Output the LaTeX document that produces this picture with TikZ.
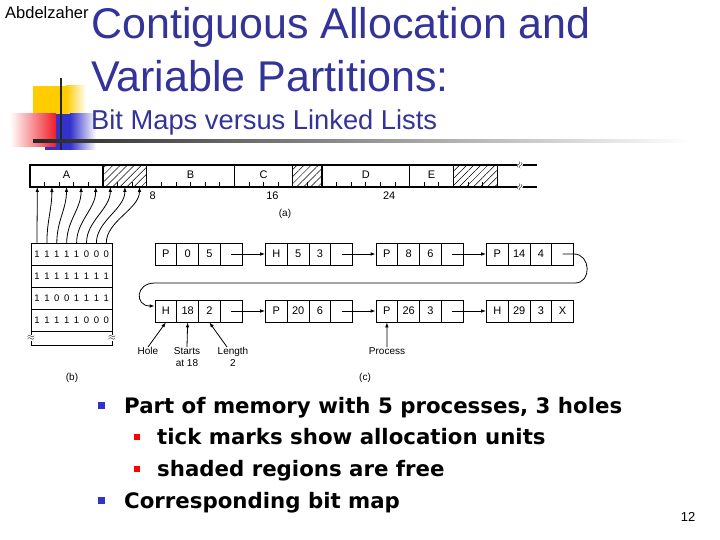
\documentclass[tikz,border=0pt]{standalone}
\usepackage{fontspec}
\setmainfont{Liberation Sans}
\newfontfamily\bulfont{DejaVu Sans}
\usetikzlibrary{patterns.meta,arrows.meta}
\definecolor{titleblue}{RGB}{51,51,153}
\definecolor{logoyellow}{RGB}{255,204,0}
\definecolor{logored}{RGB}{240,30,40}
\definecolor{logoblue}{RGB}{51,51,204}
\newcommand\mklnode[7]{%
  \node[cell] (#1a) at ({#2+10.875},#3) {#4};
  \node[cell] (#1b) at ({#2+32.625},#3) {#5};
  \node[cell] (#1c) at ({#2+54.375},#3) {#6};
  \node[cell] (#1d) at ({#2+76.125},#3) {#7};}
\begin{document}
\begin{tikzpicture}[x=1pt,y=-1pt,
  bar/.style={line width=1.1pt},
  tickmark/.style={line width=0.8pt},
  arr/.style={line width=0.8pt,-{Latex[length=5pt,width=3.6pt]}},
  cell/.style={draw,line width=0.8pt,minimum width=21.75pt,minimum height=22pt,inner sep=0pt,font=\fontsize{11}{12}\selectfont},
  lbl/.style={inner sep=0pt,font=\fontsize{11}{12}\selectfont},
  bitlbl/.style={inner sep=0pt,font=\fontsize{9.5}{11}\selectfont},
  smalllbl/.style={inner sep=0pt,font=\fontsize{10}{12}\selectfont,align=center},
  hatch/.style={pattern={Lines[angle=45,distance=5pt,line width=0.5pt]}},
  bullettext/.style={anchor=base west,inner sep=0pt,font=\bulfont\bfseries\fontsize{21.3}{24}\selectfont},
]
\useasboundingbox (0,0) rectangle (720,540);
% ---------- logo ----------
\fill[logoyellow] (33,86) rectangle (66,118);
\shade[left color=logoyellow,right color=white] (66,86) rectangle (86,118);
\fill[logoblue] (45,114) rectangle (70,150);
\shade[left color=logoblue,right color=white] (70,114) rectangle (96,150);
\shade[left color=white,right color=logored] (10,114) rectangle (56,147);
\draw[line width=2pt,black!85] (61,78) -- (61,150);
\shade[left color=black!85,right color=white] (33,139.5) rectangle (690,142.5);
% ---------- titles ----------
\node[anchor=base west,inner sep=0pt,font=\fontsize{16.5}{18}\selectfont] (auth) at (5,19) {Abdelzaher};
\node[anchor=base west,inner sep=0pt,text=titleblue,font=\fontsize{43}{46}\selectfont] (t1) at (91,39) {Contiguous Allocation and};
\node[anchor=base west,inner sep=0pt,text=titleblue,font=\fontsize{43}{46}\selectfont] (t2) at (91,92) {Variable Partitions:};
\node[anchor=base west,inner sep=0pt,text=titleblue,font=\fontsize{27.3}{30}\selectfont] (t3) at (91,130) {Bit Maps versus Linked Lists};
% ---------- memory bar ----------
\path[hatch] ({30+5*14.6},165) rectangle ({30+8*14.6},187);
\path[hatch] ({30+18*14.6},165) rectangle ({30+20*14.6},187);
\path[hatch] ({30+29*14.6},165) rectangle ({30+32*14.6},187);
\foreach \k in {1,...,31} \draw[tickmark] ({30+\k*14.6},187) -- ++(0,-5);
\draw[bar] (537,165) -- (30,165) -- (30,187) -- (537,187);
\foreach \k in {5,8,14,18,20,26,29,32} \draw[bar] ({30+\k*14.6},165) -- ({30+\k*14.6},187);
\node[fill=white,inner sep=0.3pt,rotate=70,font=\small] (brk1) at (520,165) {$\approx$};
\node[fill=white,inner sep=0.3pt,rotate=70,font=\small] (brk2) at (520,187) {$\approx$};
\node[lbl] (lA) at ({30+2.5*14.6},175) {A};
\node[lbl] (lB) at ({30+11*14.6},175) {B};
\node[lbl] (lC) at ({30+16*14.6},175) {C};
\node[lbl] (lD) at ({30+23*14.6},175) {D};
\node[lbl] (lE) at ({30+27.5*14.6},175) {E};
\node[lbl,anchor=west] (n8) at ({30+8*14.6+2.5},196) {8};
\node[lbl,anchor=west] (n16) at ({30+16*14.6+2.5},196) {16};
\node[lbl,anchor=west] (n24) at ({30+24*14.6+2.5},196) {24};
\node[smalllbl] (capa) at (285,214) {(a)};
% ---------- bitmap ----------
\draw[line width=0.9pt] (31,345) -- (31,243) -- (112,243) -- (112,345) -- cycle;
\foreach \y in {265,287,309,331} \draw[line width=0.9pt] (31,\y) -- (112,\y);
\node[fill=white,inner sep=0.3pt,font=\normalsize] (bbl) at (31,338) {$\approx$};
\node[fill=white,inner sep=0.3pt,font=\normalsize] (bbr) at (112,338) {$\approx$};
\foreach \r/\bits in {0/{1,1,1,1,1,0,0,0},1/{1,1,1,1,1,1,1,1},2/{1,1,0,0,1,1,1,1},3/{1,1,1,1,1,0,0,0}}{
  \foreach \v [count=\i from 0] in \bits {
    \node[bitlbl] (bm\r\i) at ({37+9.9*\i},{254+22*\r}) {\v};
  }
}
\foreach \i in {0,...,7}{
  \coordinate (bs\i) at ({37+9.9*\i},243);
  \coordinate (mt\i) at ({30+(\i+0.5)*14.6},187);
  \draw[arr] (bs\i) .. controls +(0,-22) and +(0,22) .. (mt\i);
}
\node[smalllbl] (capb) at (72,378) {(b)};
% ---------- linked list ----------
\mklnode{pa}{155}{254}{P}{0}{5}{}
\mklnode{pb}{265.5}{254}{H}{5}{3}{}
\mklnode{pc}{376}{254}{P}{8}{6}{}
\mklnode{pd}{486.5}{254}{P}{14}{4}{}
\mklnode{qa}{155}{311}{H}{18}{2}{}
\mklnode{qb}{265.5}{311}{P}{20}{6}{}
\mklnode{qc}{376}{311}{P}{26}{3}{}
\mklnode{qd}{486.5}{311}{H}{29}{3}{X}
\draw[arr] (pad.center) -- (pba.west);
\draw[arr] (pbd.center) -- (pca.west);
\draw[arr] (pcd.center) -- (pda.west);
\draw[arr] (qad.center) -- (qba.west);
\draw[arr] (qbd.center) -- (qca.west);
\draw[arr] (qcd.center) -- (qda.west);
\coordinate (wr) at (575,283);
\coordinate (wl) at (155,283);
\draw[arr] (pdd.center) -- (pdd.east) .. controls +(17,0) and +(17,0) .. (wr) -- (wl) .. controls +(-20,0) and +(-20,0) .. ([yshift=5pt]qaa.west);
\node[smalllbl,anchor=north] (hole) at (148,347) {Hole};
\node[smalllbl,anchor=north] (starts) at (187,347) {Starts\\at 18};
\node[smalllbl,anchor=north] (length) at (233,347) {Length\\2};
\node[smalllbl,anchor=north] (proc) at (387,347) {Process};
\draw[arr] (hole.north) -- (qaa.south);
\draw[arr] (starts.north) -- (qab.south);
\draw[arr] ([xshift=-6pt]length.north) -- (qac.south);
\draw[arr] (proc.north) -- (qca.south);
\node[smalllbl] (capc) at (365,378) {(c)};
% ---------- bullets ----------
\fill[logoblue] (98,402) rectangle (105,409);
\fill[red] (134,434) rectangle (140,440);
\fill[red] (134,466) rectangle (140,472);
\fill[logoblue] (98,497) rectangle (105,504);
\node[bullettext] (b1) at (124,413) {Part of memory with 5 processes, 3 holes};
\node[bullettext] (b2) at (157,444) {tick marks show allocation units};
\node[bullettext] (b3) at (157,476) {shaded regions are free};
\node[bullettext] (b4) at (124,508) {Corresponding bit map};
\node[anchor=base,inner sep=0pt,font=\fontsize{13}{15}\selectfont] (pg) at (688,521) {12};
\end{tikzpicture}
\end{document}
